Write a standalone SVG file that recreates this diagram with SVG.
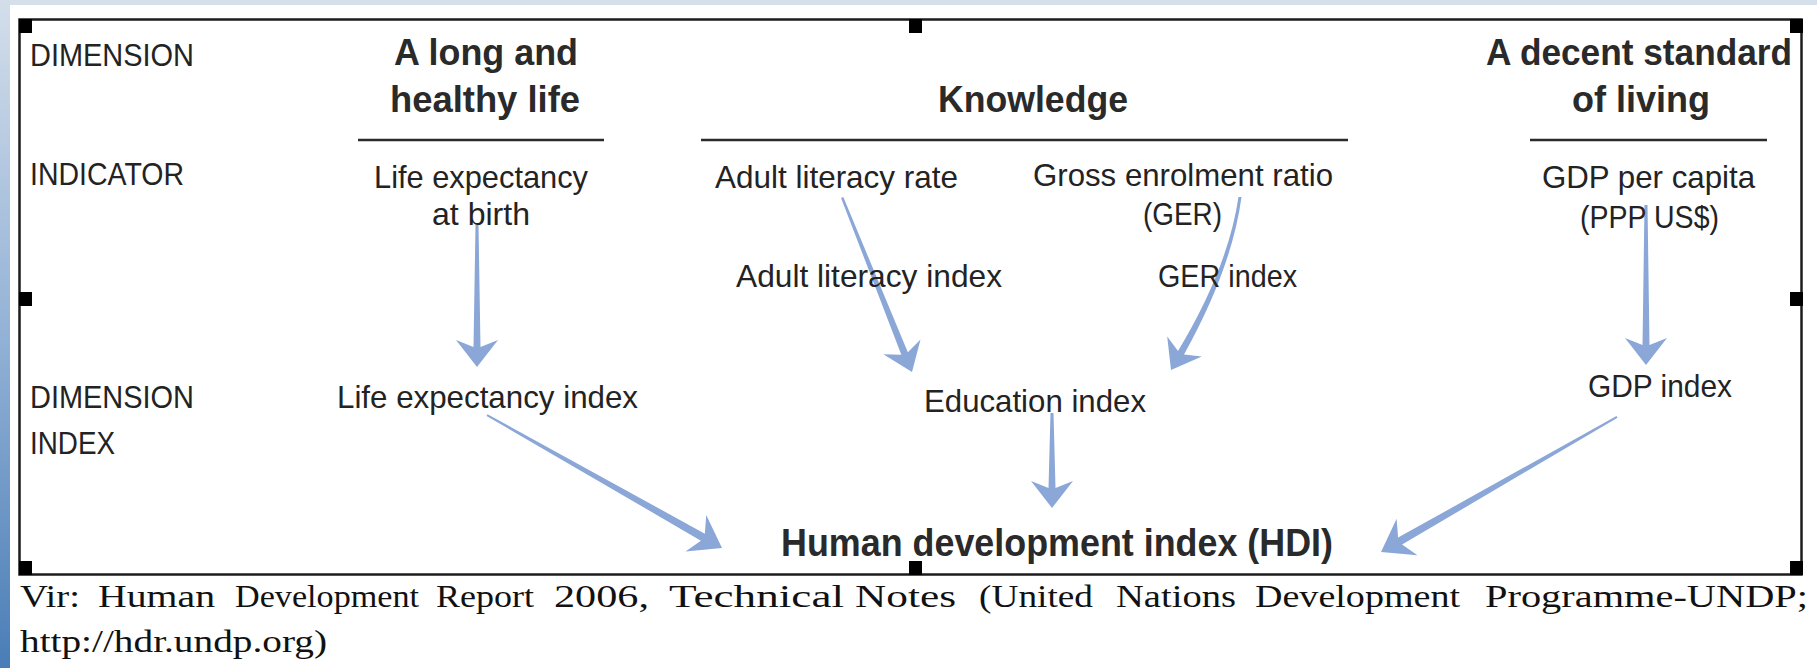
<svg xmlns="http://www.w3.org/2000/svg" width="1817" height="668" viewBox="0 0 1817 668">
<defs>
<linearGradient id="edge" x1="0" y1="0" x2="0" y2="1">
<stop offset="0" stop-color="#d3deea"/>
<stop offset="0.5" stop-color="#93b2d6"/>
<stop offset="1" stop-color="#4a7db6"/>
</linearGradient>
<style>
.lbl{font-family:"Liberation Sans","Arial",sans-serif;font-size:32px;fill:#232323}
.hd{font-family:"Liberation Sans","Arial",sans-serif;font-size:36px;font-weight:bold;fill:#2a2a2a}
.cap{font-family:"Liberation Serif","Times New Roman",serif;font-size:32px;fill:#111}
.rule{stroke:#2b2b2b;stroke-width:2.5;fill:none}
.arrow{fill:#8ba7d7;stroke:none}
.handle{fill:#000}
</style>
</defs>
<rect x="0" y="0" width="1817" height="668" fill="#ffffff"/>
<rect x="0" y="0" width="1817" height="5" fill="#d6e0eb"/>
<rect x="0" y="0" width="10" height="668" fill="url(#edge)"/>

<g id="frame">
<rect x="19.5" y="19.5" width="1782" height="555" fill="none" stroke="#1c1c1c" stroke-width="2.5"/>
<rect class="handle" x="19" y="19" width="13" height="14"/>
<rect class="handle" x="909" y="19" width="13" height="14"/>
<rect class="handle" x="1790" y="19" width="13" height="14"/>
<rect class="handle" x="19" y="292" width="13" height="14"/>
<rect class="handle" x="1790" y="292" width="13" height="14"/>
<rect class="handle" x="19" y="561" width="13" height="14"/>
<rect class="handle" x="909" y="561" width="13" height="14"/>
<rect class="handle" x="1790" y="561" width="13" height="14"/>
</g>

<g id="connectors">
<path class="arrow" transform="translate(477,367) rotate(90)" d="M -142,-1.5 L -20,-3.5 L -27,-21 L 0,0 L -27,21 L -20,3.5 L -142,1.5 Z"/>
<path class="arrow" transform="translate(912,372) rotate(68.2)" d="M -188,-1.2 L -20,-3.5 L -27,-20 L 0,0 L -27,20 L -20,3.5 L -188,1.2 Z"/>
<path class="arrow" d="M 1238.5,197 Q 1228,268 1178,351 L 1167.2,336.6 L 1171,370 L 1201.8,356.6 L 1184,354.5 Q 1232,268 1241.5,197 Z"/>
<path class="arrow" transform="translate(1646,365) rotate(90)" d="M -160,-1.5 L -20,-3.5 L -27,-21 L 0,0 L -27,21 L -20,3.5 L -160,1.5 Z"/>
<path class="arrow" transform="translate(722,548) rotate(29.5)" d="M -270,-1 L -22,-4 L -30,-21 L 0,0 L -30,21 L -22,4 L -270,1 Z"/>
<path class="arrow" transform="translate(1052,508) rotate(90)" d="M -95,-1.5 L -20,-3.5 L -27,-21 L 0,0 L -27,21 L -20,3.5 L -95,1.5 Z"/>
<path class="arrow" transform="translate(1381,552) rotate(150.2)" d="M -272,-1 L -22,-4 L -30,-21 L 0,0 L -30,21 L -22,4 L -272,1 Z"/>
</g>

<g id="rules">
<line class="rule" x1="358" y1="140" x2="604" y2="140"/>
<line class="rule" x1="701" y1="140" x2="1348" y2="140"/>
<line class="rule" x1="1530" y1="140" x2="1767" y2="140"/>
</g>

<g id="row-labels">
<text class="lbl" x="30" y="66" textLength="164" lengthAdjust="spacingAndGlyphs">DIMENSION</text>
<text class="lbl" x="30" y="185" textLength="154" lengthAdjust="spacingAndGlyphs">INDICATOR</text>
<text class="lbl" x="30" y="408" textLength="164" lengthAdjust="spacingAndGlyphs">DIMENSION</text>
<text class="lbl" x="30" y="454" textLength="85" lengthAdjust="spacingAndGlyphs">INDEX</text>
</g>

<g id="dim-health">
<text class="hd" x="394" y="65" textLength="184" lengthAdjust="spacingAndGlyphs">A long and</text>
<text class="hd" x="390" y="112" textLength="190" lengthAdjust="spacingAndGlyphs">healthy life</text>
</g>
<g id="dim-knowledge">
<text class="hd" x="938" y="112" textLength="190" lengthAdjust="spacingAndGlyphs">Knowledge</text>
</g>
<g id="dim-living">
<text class="hd" x="1486" y="65" textLength="306" lengthAdjust="spacingAndGlyphs">A decent standard</text>
<text class="hd" x="1572" y="112" textLength="138" lengthAdjust="spacingAndGlyphs">of living</text>
</g>

<g id="ind-life">
<text class="lbl" x="374" y="188" textLength="214" lengthAdjust="spacingAndGlyphs">Life expectancy</text>
<text class="lbl" x="432" y="225" textLength="98" lengthAdjust="spacingAndGlyphs">at birth</text>
</g>
<g id="ind-literacy">
<text class="lbl" x="715" y="188" textLength="243" lengthAdjust="spacingAndGlyphs">Adult literacy rate</text>
</g>
<g id="ind-ger">
<text class="lbl" x="1033" y="186" textLength="300" lengthAdjust="spacingAndGlyphs">Gross enrolment ratio</text>
<text class="lbl" x="1143" y="225" textLength="79" lengthAdjust="spacingAndGlyphs">(GER)</text>
</g>
<g id="ind-gdp">
<text class="lbl" x="1542" y="188" textLength="213" lengthAdjust="spacingAndGlyphs">GDP per capita</text>
<text class="lbl" x="1580" y="228" textLength="139" lengthAdjust="spacingAndGlyphs">(PPP US$)</text>
</g>
<g id="idx-literacy">
<text class="lbl" x="736" y="287" textLength="266" lengthAdjust="spacingAndGlyphs">Adult literacy index</text>
</g>
<g id="idx-ger">
<text class="lbl" x="1158" y="287" textLength="139" lengthAdjust="spacingAndGlyphs">GER index</text>
</g>
<g id="idx-life">
<text class="lbl" x="337" y="408" textLength="301" lengthAdjust="spacingAndGlyphs">Life expectancy index</text>
</g>
<g id="idx-education">
<text class="lbl" x="924" y="412" textLength="222" lengthAdjust="spacingAndGlyphs">Education index</text>
</g>
<g id="idx-gdp">
<text class="lbl" x="1588" y="397" textLength="144" lengthAdjust="spacingAndGlyphs">GDP index</text>
</g>
<g id="hdi">
<text class="hd" style="font-size:38px" x="781" y="556" textLength="552" lengthAdjust="spacingAndGlyphs">Human development index (HDI)</text>
</g>

<g id="caption">
<text class="cap" x="20" y="607" textLength="60" lengthAdjust="spacingAndGlyphs">Vir:</text>
<text class="cap" x="98" y="607" textLength="117" lengthAdjust="spacingAndGlyphs">Human</text>
<text class="cap" x="235" y="607" textLength="184" lengthAdjust="spacingAndGlyphs">Development</text>
<text class="cap" x="436" y="607" textLength="98" lengthAdjust="spacingAndGlyphs">Report</text>
<text class="cap" x="554" y="607" textLength="95" lengthAdjust="spacingAndGlyphs">2006,</text>
<text class="cap" x="669" y="607" textLength="175" lengthAdjust="spacingAndGlyphs">Technical</text>
<text class="cap" x="855" y="607" textLength="101" lengthAdjust="spacingAndGlyphs">Notes</text>
<text class="cap" x="979" y="607" textLength="114" lengthAdjust="spacingAndGlyphs">(United</text>
<text class="cap" x="1116" y="607" textLength="120" lengthAdjust="spacingAndGlyphs">Nations</text>
<text class="cap" x="1255" y="607" textLength="205" lengthAdjust="spacingAndGlyphs">Development</text>
<text class="cap" x="1485" y="607" textLength="323" lengthAdjust="spacingAndGlyphs">Programme-UNDP;</text>
<text class="cap" x="20" y="652" textLength="307" lengthAdjust="spacingAndGlyphs">http://hdr.undp.org)</text>
</g>
</svg>
